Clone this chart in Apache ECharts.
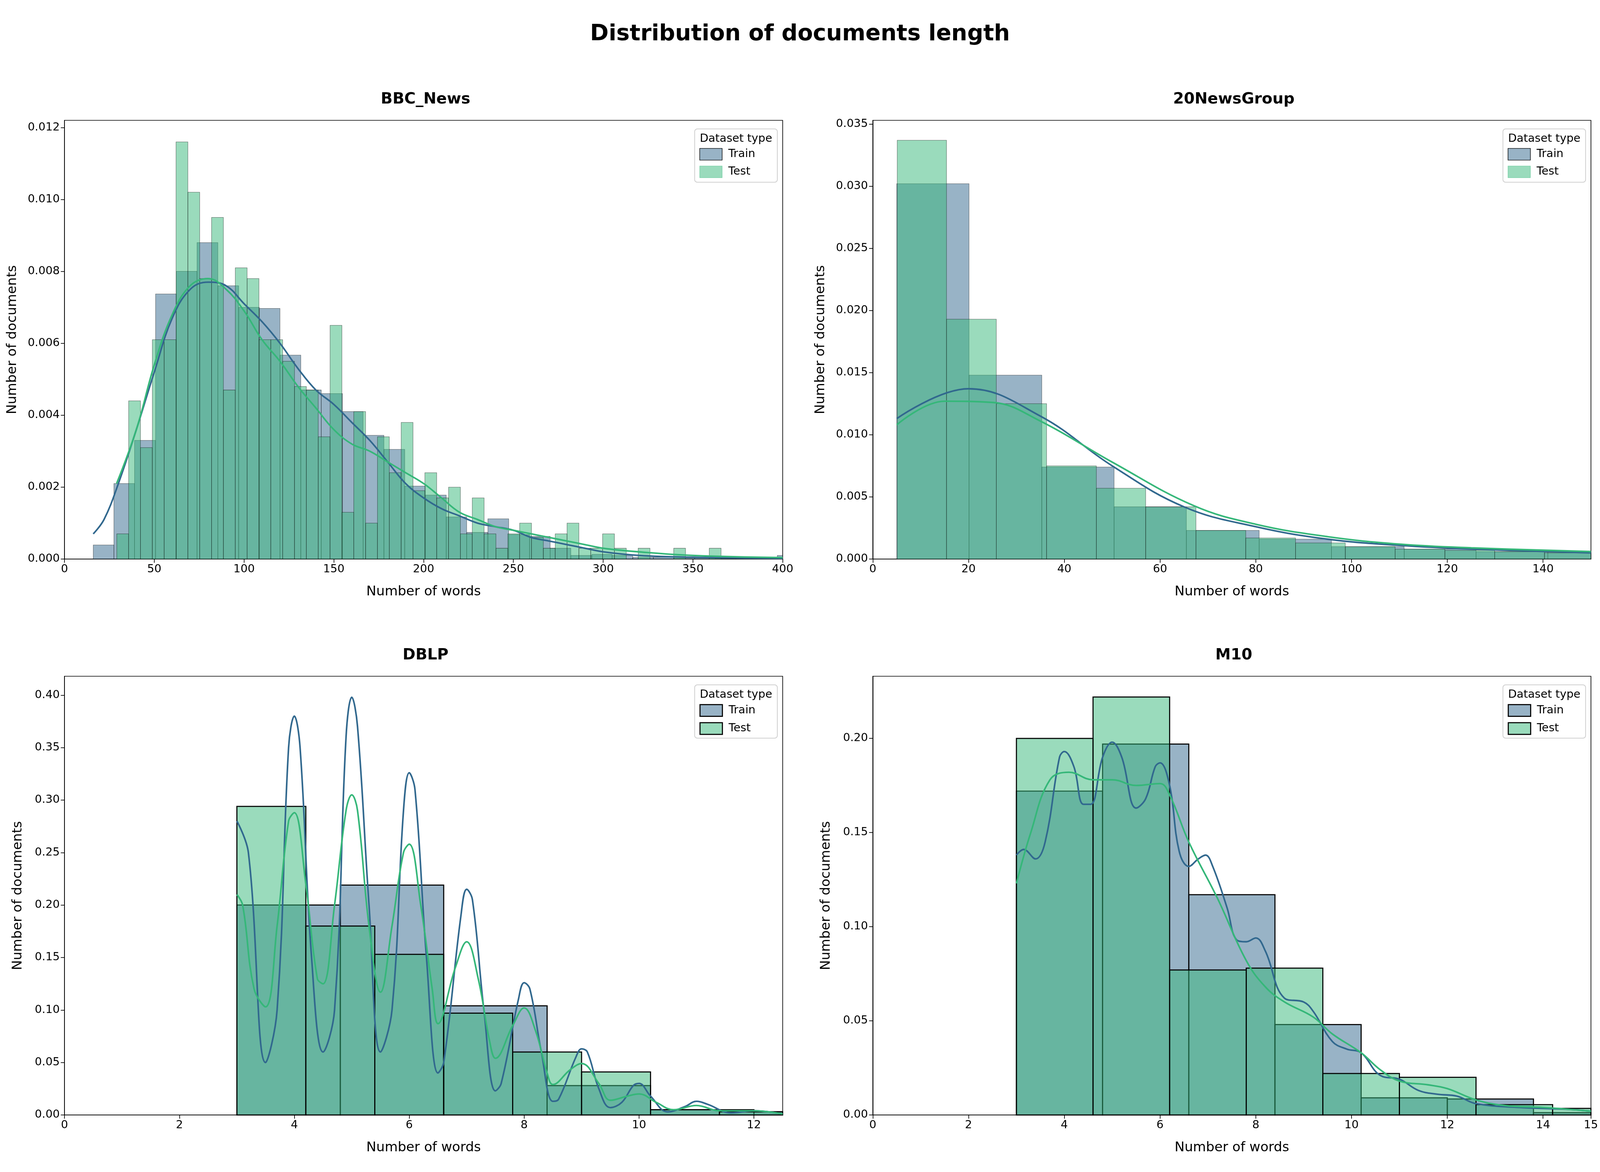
<!DOCTYPE html>
<html><head><meta charset="utf-8">
<script src="https://cdn.jsdelivr.net/npm/echarts@6/dist/echarts.min.js"></script>
<style>html,body{margin:0;padding:0;background:#fff;overflow:hidden}#c{width:100vw;height:100vh}</style>
</head><body><div id="c"></div>
<script>
// ---- data: bins are [start, end, density] ----
const panelTitles = ['BBC_News', '20NewsGroup', 'DBLP', 'M10'];

const bbcTrainBins = [[16,27.5,0.00039],[27.5,39,0.0021],[39,50.7,0.0033],[50.7,62.3,0.00737],[62.3,73.8,0.0080],[73.8,85.4,0.0088],[85.4,97,0.0076],[97,108.5,0.0070],[108.5,120,0.00697],[120,131.6,0.00567],[131.6,143,0.0047],[143,154.8,0.0046],[154.8,166.3,0.0041],[166.3,177.9,0.00344],[177.9,189.5,0.00305],[189.5,201,0.00203],[201,212.6,0.00178],[212.6,224,0.00117],[224,235.8,0.00074],[235.8,247.4,0.00112],[247.4,259,0.00068],[259,270.5,0.00063],[270.5,282,0.0003],[282,293.7,0.0001],[293.7,305,0.00013],[305,316.5,0.0001],[316.5,328,0.00005],[328,339.5,0.00005],[339.5,351,0.00003],[351,362.5,0.00003],[362.5,374,0.00002],[374,385.5,0.00002],[385.5,397,0.00002],[397,408.5,0.0001]];
const bbcTestBins = [[29.1,35.7,0.0007],[35.7,42.3,0.0044],[42.3,48.9,0.0031],[48.9,55.5,0.0061],[55.5,62.1,0.0061],[62.1,68.7,0.0116],[68.7,75.3,0.0102],[75.3,81.9,0.0078],[81.9,88.5,0.0095],[88.5,95.1,0.0047],[95.1,101.7,0.0081],[101.7,108.3,0.0078],[108.3,114.9,0.0061],[114.9,121.5,0.0061],[121.5,128.1,0.0055],[128.1,134.7,0.0048],[134.7,141.3,0.0047],[141.3,147.9,0.0034],[147.9,154.5,0.0065],[154.5,161.1,0.0013],[161.1,167.7,0.0041],[167.7,174.3,0.0010],[174.3,180.9,0.0034],[180.9,187.5,0.0024],[187.5,194.1,0.0038],[194.1,200.7,0.0019],[200.7,207.3,0.0024],[207.3,213.9,0.0017],[213.9,220.5,0.0020],[220.5,227.1,0.0007],[227.1,233.7,0.0017],[233.7,240.3,0.0007],[240.3,246.9,0.0003],[246.9,253.5,0.0007],[253.5,260.1,0.0010],[260.1,266.7,0.0006],[266.7,273.3,0.0003],[273.3,279.9,0.0007],[279.9,286.5,0.0010],[286.5,293.1,0.0003],[293.1,299.7,0.0003],[299.7,306.3,0.0007],[306.3,312.9,0.0003],[319.5,326.1,0.0003],[339.3,345.9,0.0003],[359.1,365.7,0.0003]];
const bbcTrainKde = [[16,0.0007],[22,0.0011],[30,0.0021],[40,0.0036],[50,0.0052],[60,0.0067],[70,0.0075],[80,0.0077],[90,0.0076],[100,0.0071],[110,0.0066],[120,0.0060],[130,0.0053],[140,0.0047],[150,0.0043],[160,0.0038],[170,0.0033],[180,0.0027],[190,0.0021],[200,0.0017],[210,0.0014],[220,0.0012],[230,0.0010],[240,0.0009],[250,0.0008],[260,0.0006],[270,0.0005],[280,0.0004],[290,0.0003],[300,0.0002],[320,0.0001],[350,0.00005],[400,0.00002]];
const bbcTestKde = [[29,0.0021],[40,0.0036],[50,0.0054],[60,0.0068],[70,0.0076],[80,0.0078],[90,0.0075],[100,0.0069],[110,0.0061],[120,0.0055],[130,0.0048],[140,0.0042],[150,0.0036],[160,0.0032],[170,0.0030],[180,0.0027],[190,0.0024],[200,0.0021],[210,0.0017],[220,0.0013],[230,0.0011],[240,0.0009],[250,0.0008],[260,0.0007],[270,0.0006],[280,0.0005],[290,0.0004],[300,0.0003],[320,0.0002],[350,0.0001],[400,0.00004]];

const ngTrainBins = [[5,20.1,0.0302],[20.1,35.3,0.0148],[35.3,50.4,0.0074],[50.4,65.5,0.0042],[65.5,80.7,0.0023],[80.7,95.8,0.0016],[95.8,111,0.0010],[111,126,0.0008],[126,141,0.0006],[141,156,0.0005]];
const ngTestBins = [[5.1,15.4,0.0337],[15.4,25.8,0.0193],[25.8,36.3,0.0125],[36.3,46.7,0.0075],[46.7,57,0.0057],[57,67.5,0.0042],[67.5,77.9,0.0023],[77.9,88.3,0.0017],[88.3,98.7,0.0013],[98.7,109.1,0.0010],[109.1,119.5,0.0008],[119.5,129.9,0.0007],[129.9,140.3,0.0006],[140.3,150.7,0.0005]];
const ngTrainKde = [[5,0.0113],[20,0.0137],[35,0.0115],[50,0.0075],[65,0.0042],[80,0.0026],[95,0.0016],[110,0.0011],[125,0.0008],[150,0.0005]];
const ngTestKde = [[5,0.0108],[15,0.0127],[25,0.0126],[35,0.0111],[50,0.0078],[67,0.0043],[80,0.0028],[95,0.0018],[110,0.0012],[125,0.0009],[150,0.0006]];

const dbTrainBins = [[3,4.8,0.200],[4.8,6.6,0.219],[6.6,8.4,0.104],[8.4,10.2,0.028],[10.2,12.0,0.005],[12.0,13.8,0.003]];
const dbTestBins = [[3,4.2,0.294],[4.2,5.4,0.180],[5.4,6.6,0.153],[6.6,7.8,0.097],[7.8,9.0,0.060],[9.0,10.2,0.041],[10.2,11.4,0.005],[11.4,12.6,0.003]];
const dbTrainKde = [[3,0.28],[3.2,0.25],[3.5,0.05],[3.7,0.10],[3.9,0.35],[4.0,0.38],[4.1,0.35],[4.3,0.15],[4.5,0.06],[4.7,0.10],[4.9,0.36],[5.0,0.398],[5.1,0.37],[5.3,0.2],[5.5,0.06],[5.7,0.1],[5.9,0.29],[6.0,0.326],[6.1,0.31],[6.3,0.15],[6.5,0.04],[6.6,0.05],[6.9,0.19],[7.0,0.215],[7.1,0.205],[7.3,0.10],[7.5,0.023],[7.6,0.03],[7.9,0.11],[8.0,0.126],[8.1,0.12],[8.3,0.06],[8.5,0.013],[8.6,0.015],[8.9,0.055],[9.0,0.063],[9.1,0.06],[9.3,0.025],[9.5,0.007],[9.7,0.012],[9.9,0.028],[10.0,0.03],[10.2,0.018],[10.5,0.003],[10.8,0.008],[11,0.013],[11.2,0.01],[11.6,0.002],[12,0.004],[12.5,0.001]];
const dbTestKde = [[3,0.21],[3.1,0.2],[3.3,0.12],[3.5,0.103],[3.7,0.18],[3.9,0.28],[4.0,0.288],[4.2,0.22],[4.4,0.13],[4.5,0.125],[4.7,0.2],[4.9,0.29],[5.0,0.305],[5.1,0.29],[5.3,0.18],[5.5,0.117],[5.7,0.18],[5.9,0.25],[6.0,0.258],[6.2,0.2],[6.4,0.12],[6.5,0.087],[6.8,0.14],[7.0,0.165],[7.2,0.13],[7.4,0.07],[7.5,0.054],[7.8,0.085],[8.0,0.102],[8.2,0.08],[8.4,0.04],[8.5,0.029],[8.8,0.043],[9.0,0.049],[9.3,0.03],[9.5,0.014],[9.8,0.018],[10.0,0.02],[10.3,0.012],[10.6,0.005],[11,0.009],[11.4,0.004],[12,0.004],[12.5,0.001]];

const m10TrainBins = [[3,4.8,0.172],[4.8,6.6,0.197],[6.6,8.4,0.117],[8.4,10.2,0.048],[10.2,12.0,0.0091],[12.0,13.8,0.0085],[13.8,15.6,0.0012]];
const m10TestBins = [[3,4.6,0.200],[4.6,6.2,0.222],[6.2,7.8,0.077],[7.8,9.4,0.078],[9.4,11.0,0.022],[11.0,12.6,0.020],[12.6,14.2,0.0055],[14.2,15.8,0.0035]];
const m10TrainKde = [[3,0.138],[3.15,0.141],[3.4,0.136],[3.6,0.145],[3.9,0.19],[4.0,0.193],[4.2,0.185],[4.4,0.165],[4.55,0.165],[4.8,0.19],[5.0,0.198],[5.2,0.19],[5.5,0.163],[5.7,0.168],[5.9,0.185],[6.0,0.187],[6.2,0.175],[6.4,0.14],[6.6,0.132],[6.8,0.136],[6.95,0.138],[7.1,0.132],[7.4,0.11],[7.6,0.093],[7.8,0.092],[8.0,0.094],[8.2,0.087],[8.6,0.062],[9.0,0.06],[9.2,0.055],[9.6,0.039],[9.9,0.035],[10.2,0.033],[10.6,0.021],[11,0.019],[11.4,0.013],[11.8,0.011],[12.2,0.01],[12.6,0.006],[13.5,0.004],[14.5,0.003],[15,0.002]];
const m10TestKde = [[3,0.123],[3.3,0.15],[3.7,0.178],[4.1,0.182],[4.6,0.178],[5.0,0.178],[5.5,0.175],[6.0,0.176],[6.2,0.17],[6.6,0.145],[7.2,0.115],[7.8,0.082],[8.2,0.068],[8.6,0.06],[9.2,0.052],[9.6,0.043],[10.2,0.033],[10.6,0.024],[11,0.018],[11.6,0.016],[12,0.014],[12.6,0.008],[13.2,0.005],[14,0.004],[15,0.002]];

const xRanges = [[0,400,50],[0,150,20],[0,12.5,2],[0,15,2]];
const yRanges = [[0,0.0122,0.002,3],[0,0.0353,0.005,3],[0,0.418,0.05,2],[0,0.233,0.05,2]];

// ---- build ----
const el=document.getElementById('c');
const W=el.clientWidth||6000, H=el.clientHeight||3000;
const sx=W/6000, sy=H/3000, s=Math.min(sx,sy);
const panels = [
  [bbcTrainBins,bbcTestBins,bbcTrainKde,bbcTestKde,'rgba(0,0,0,0.55)',1.5],
  [ngTrainBins,ngTestBins,ngTrainKde,ngTestKde,'rgba(0,0,0,0.55)',1.5],
  [dbTrainBins,dbTestBins,dbTrainKde,dbTestKde,'#000',4],
  [m10TrainBins,m10TestBins,m10TrainKde,m10TestKde,'#000',4]
];
const TRAIN='#31688e', TEST='#35b779';
const trainFill='rgba(49,104,142,0.5)', testFill='rgba(53,183,121,0.5)';
const G=[{left:242,top:308},{left:3273,top:308},{left:242,top:1731},{left:3273,top:1731}];
const GW=2693, GH=1123;
const font='DejaVu Sans';

function rectItem(fill, edge, ew){
  return function(params, api){
    const p0=api.coord([api.value(0), api.value(2)]);
    const p1=api.coord([api.value(1), 0]);
    const shape=echarts.graphic.clipRectByRect(
      {x:p0[0],y:p0[1],width:p1[0]-p0[0],height:p1[1]-p0[1]},
      {x:params.coordSys.x,y:params.coordSys.y,width:params.coordSys.width,height:params.coordSys.height});
    return shape && {type:'rect',shape:shape,style:{fill:fill,stroke:edge,lineWidth:ew*s}};
  };
}

const grid=[],xAxis=[],yAxis=[],series=[],title=[],legend=[],graphic=[];
title.push({text:'Distribution of documents length',left:'center',top:55*sy,textStyle:{fontFamily:font,fontSize:84*s,fontWeight:'bold',color:'#000'}});
panels.forEach((p,i)=>{
  const g=G[i];
  grid.push({left:g.left*sx,top:g.top*sy,width:GW*sx,height:GH*sy,show:true,borderColor:'#000',borderWidth:2.5*s,backgroundColor:'transparent'});
  title.push({text:panelTitles[i],left:(g.left+GW/2)*sx,textAlign:'center',top:(g.top-78)*sy,textStyle:{fontFamily:font,fontSize:58*s,fontWeight:'bold',color:'#000'}});
  const xr=xRanges[i], yr=yRanges[i];
  xAxis.push({type:'value',gridIndex:i,min:xr[0],max:xr[1],interval:xr[2],name:'Number of words',nameLocation:'middle',nameGap:98*s,
    nameTextStyle:{fontFamily:font,fontSize:50*s,color:'#000'},
    axisLine:{onZero:false,lineStyle:{color:'#000',width:2.5*s}},axisTick:{length:14*s,lineStyle:{color:'#000',width:2.5*s}},
    axisLabel:{fontFamily:font,fontSize:42*s,color:'#000',margin:18*s,showMaxLabel:i===0||i===3},splitLine:{show:false}});
  yAxis.push({type:'value',gridIndex:i,min:yr[0],max:yr[1],interval:yr[2],name:'Number of documents',nameLocation:'middle',
    nameGap:((i===0||i===1)?170:150)*s,
    nameTextStyle:{fontFamily:font,fontSize:50*s,color:'#000'},
    axisLine:{lineStyle:{color:'#000',width:2.5*s}},axisTick:{length:14*s,lineStyle:{color:'#000',width:2.5*s}},
    axisLabel:{fontFamily:font,fontSize:42*s,color:'#000',margin:18*s,showMaxLabel:false,formatter:v=>v.toFixed(yr[3])},splitLine:{show:false}});
  series.push({type:'custom',name:'Train',xAxisIndex:i,yAxisIndex:i,renderItem:rectItem(trainFill,p[4],p[5]),encode:{x:[0,1],y:2},data:p[0],itemStyle:{color:trainFill},z:2});
  series.push({type:'custom',name:'Test',xAxisIndex:i,yAxisIndex:i,renderItem:rectItem(testFill,p[4],p[5]),encode:{x:[0,1],y:2},data:p[1],itemStyle:{color:testFill},z:3});
  series.push({type:'line',name:'Train kde',xAxisIndex:i,yAxisIndex:i,data:p[2],showSymbol:false,smooth:0.4,lineStyle:{color:TRAIN,width:6*s},itemStyle:{color:TRAIN},z:4});
  series.push({type:'line',name:'Test kde',xAxisIndex:i,yAxisIndex:i,data:p[3],showSymbol:false,smooth:0.4,lineStyle:{color:TEST,width:6*s},itemStyle:{color:TEST},z:5});
  const bx=(g.left+GW-330)*sx, by=(g.top+22)*sy;
  graphic.push({type:'rect',shape:{x:bx,y:by,width:310*s,height:200*s,r:10*s},style:{fill:'rgba(255,255,255,0.8)',stroke:'#d0d0d0',lineWidth:3*s},z:10});
  graphic.push({type:'text',x:bx+155*s,y:by+16*s,style:{text:'Dataset type',fontFamily:font,fontSize:42*s,fill:'#000',align:'center',verticalAlign:'top'},z:11});
  legend.push({orient:'vertical',left:bx+18*s,top:by+72*s,itemWidth:84*s,itemHeight:44*s,itemGap:20*s,z:12,padding:0,
    textStyle:{fontFamily:font,fontSize:42*s,color:'#000',padding:[0,0,0,16*s]},selectedMode:false,
    data:[{name:'Train',icon:'rect',itemStyle:{color:trainFill,borderColor:'#000',borderWidth:(i>1?4:2)*s}},
          {name:'Test',icon:'rect',itemStyle:{color:testFill,borderColor:i>1?'#000':testFill,borderWidth:(i>1?4:2)*s}}]});
});

const chart=echarts.init(el,null,{renderer:'canvas'});
chart.setOption({animation:false,backgroundColor:'#fff',title,grid,xAxis,yAxis,series,legend,graphic});
</script></body></html>
